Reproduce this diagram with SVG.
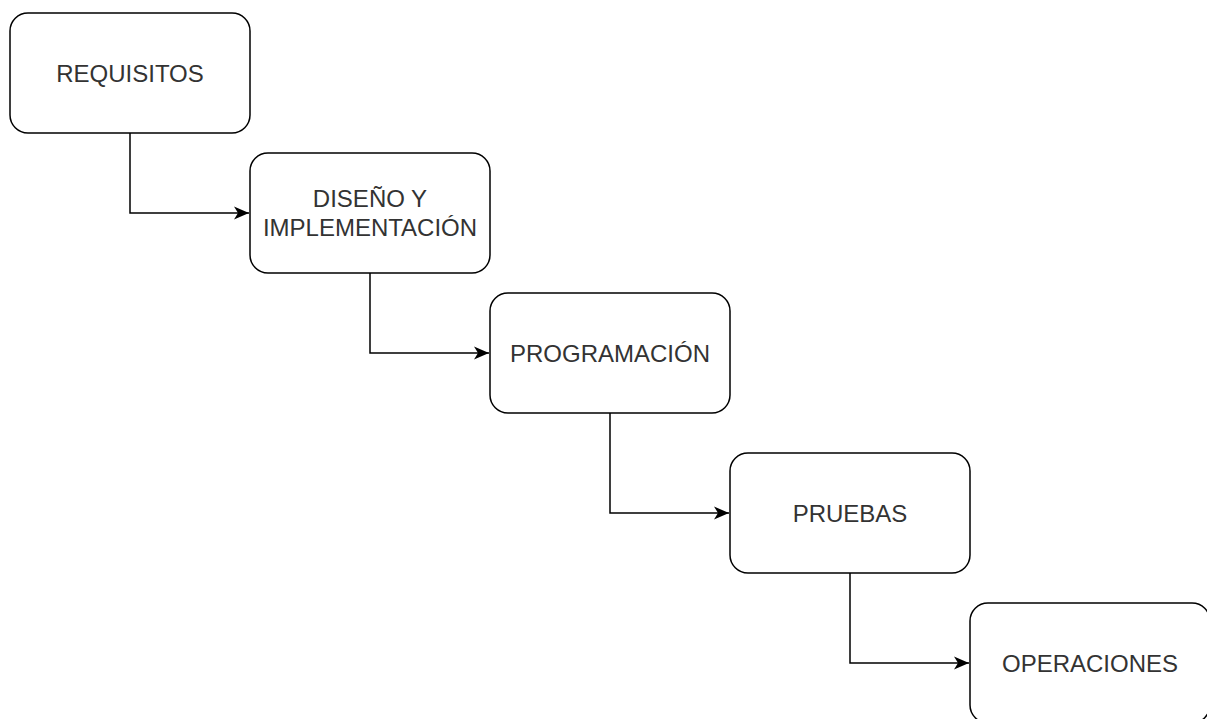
<svg xmlns="http://www.w3.org/2000/svg" width="1207" height="719" viewBox="0 0 1207 719">
<style>
.box{fill:#fff;stroke:#000;stroke-width:1.5}
.lbl{font-family:"Liberation Sans",Arial,sans-serif;font-size:24px;fill:#333;text-anchor:middle;dominant-baseline:central}
.edge{fill:none;stroke:#000;stroke-width:1.5}
</style>
<defs>
<marker id="arr" viewBox="0 0 16 16" refX="15" refY="8" markerWidth="16" markerHeight="16" markerUnits="userSpaceOnUse" orient="auto">
<path d="M0,1.5 L15,8 L0,14.5 L4,8 Z" fill="#000"/>
</marker>
</defs>
<rect width="1207" height="719" fill="#fff"/>
<g id="connectors">
<path class="edge" d="M130,133 V213 H249" marker-end="url(#arr)"/>
<path class="edge" d="M370,273 V353 H489" marker-end="url(#arr)"/>
<path class="edge" d="M610,413 V513 H729" marker-end="url(#arr)"/>
<path class="edge" d="M850,573 V663 H969" marker-end="url(#arr)"/>
</g>
<g id="requisitos">
<rect class="box" x="10" y="13" width="240" height="120" rx="18"/>
<text class="lbl" x="130" y="73">REQUISITOS</text>
</g>
<g id="diseno">
<rect class="box" x="250" y="153" width="240" height="120" rx="18"/>
<text class="lbl" x="370" y="198">DISEÑO Y</text>
<text class="lbl" x="370" y="227">IMPLEMENTACIÓN</text>
</g>
<g id="programacion">
<rect class="box" x="490" y="293" width="240" height="120" rx="18"/>
<text class="lbl" x="610" y="353">PROGRAMACIÓN</text>
</g>
<g id="pruebas">
<rect class="box" x="730" y="453" width="240" height="120" rx="18"/>
<text class="lbl" x="850" y="513">PRUEBAS</text>
</g>
<g id="operaciones">
<rect class="box" x="970" y="603" width="240" height="120" rx="18"/>
<text class="lbl" x="1090" y="663">OPERACIONES</text>
</g>
</svg>
